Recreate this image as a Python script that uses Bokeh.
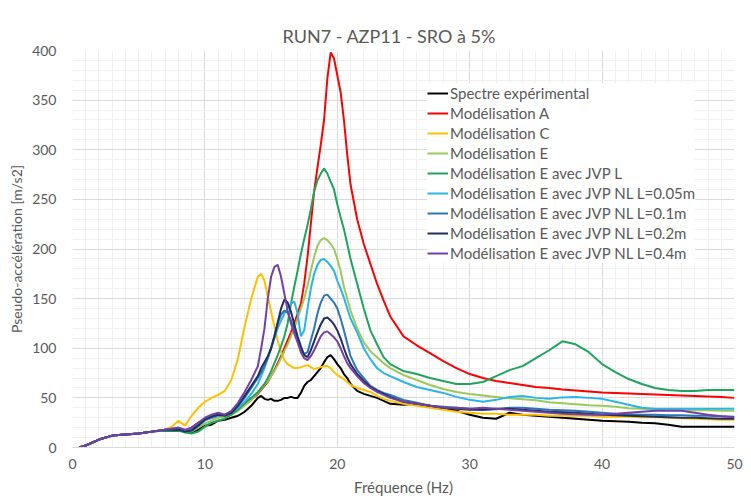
from bokeh.plotting import figure
from bokeh.models import SingleIntervalTicker, Legend, LegendItem, Range1d, Title
from bokeh.embed import file_html
from bokeh.resources import INLINE

freq = [0.5, 1, 2, 3, 4, 5, 6, 7, 7.5, 8, 8.5, 9, 9.5, 10, 10.5, 11, 11.5, 12, 12.5, 13, 13.5,
        14, 14.25, 14.5, 14.75, 15, 15.25, 15.5, 15.75, 16, 16.25, 16.5, 16.75, 17, 17.25, 17.5, 17.75,
        18, 18.25, 18.5, 18.75, 19, 19.25, 19.5, 19.75, 20, 20.25, 20.5, 20.75, 21,
        21.5, 22, 22.5, 23, 23.5, 24, 25, 26, 27, 28, 29, 30, 31, 32, 33, 34, 35, 36, 37, 38, 39,
        40, 41, 42, 43, 44, 45, 46, 47, 48, 49, 50]

spectre_exp = [0, 2, 8, 12, 13, 14, 16, 17, 17, 17, 16, 15, 18, 22, 23, 27, 28, 30, 32, 36, 42,
               50, 52, 49, 48, 49, 47, 47, 48, 50, 50, 51, 50, 50, 55, 62, 66,
               68, 72, 76, 80, 86, 91, 93, 89, 84, 80, 74, 70, 64,
               57, 54, 52, 50, 47, 44, 43, 44, 42, 40, 37, 33, 30, 29, 35, 33, 32, 31, 30, 29, 28,
               27, 26.5, 26, 25, 24.5, 23, 21, 21, 21, 21, 21]

model_a = [0, 2, 8, 12, 13, 14, 16, 18, 18, 18, 17, 20, 25, 28, 30, 31, 32, 34, 38, 43, 48,
           54, 58, 62, 66, 72, 78, 85, 92, 100, 108, 116, 125, 135, 145, 165, 192,
           225, 258, 282, 305, 330, 372, 398, 392, 375, 358, 330, 295, 265,
           230, 205, 185, 165, 148, 132, 112, 103, 95, 87, 80, 74, 70, 67, 65, 63, 61, 60, 58.5, 57.5, 56.5,
           55.5, 55, 54.5, 54, 53.5, 53, 52.5, 52, 51.5, 51, 50]

model_c = [0, 2, 8, 12, 13, 14, 16, 18, 21, 27, 22, 32, 40, 46, 50, 53, 57, 68, 90, 122, 150,
           172, 175, 168, 152, 137, 122, 108, 96, 88, 84, 82, 80, 80, 81, 82, 83,
           81, 79, 80, 81, 82, 82, 80, 76, 73, 71, 69, 66, 63,
           60, 58, 56, 52, 49, 47, 44, 42, 40, 38, 36, 35, 34, 34, 33, 33, 33, 32, 32, 32, 32,
           31, 31, 31, 30.5, 30.5, 30, 29.5, 29, 28.5, 28, 28]

model_e = [0, 2, 8, 12, 13, 14, 16, 18, 18, 18, 16, 16, 20, 24, 27, 30, 31, 33, 37, 42, 48,
           55, 59, 63, 67, 72, 77, 83, 90, 97, 104, 112, 120, 130, 140, 150, 163,
           178, 192, 203, 209, 211, 209, 205, 200, 190, 178, 162, 150, 138,
           120, 106, 97, 91, 85, 80, 73, 68, 63, 59, 56, 54, 52.5, 51, 49.5, 48.5, 47.5, 45.5, 44.5, 43.5, 42.5,
           42, 41, 39.5, 39, 38.5, 38, 38, 37.5, 37.5, 37, 37]

model_e_jvp_l = [0, 2, 8, 12, 13, 14, 16, 17, 17, 17, 15, 14, 16, 21, 25, 27, 29, 33, 38, 45, 50,
                 56, 60, 64, 70, 77, 85, 93, 102, 112, 125, 145, 162, 178, 195, 210, 224,
                 240, 258, 269, 276, 281, 276, 268, 260, 245, 232, 220, 205, 190,
                 165, 140, 118, 104, 91, 84, 77, 74, 70, 67, 64, 64, 66, 72, 78, 82, 90, 98, 107, 104, 96,
                 84, 76, 69, 64, 60, 58, 57, 57, 58, 58, 58]

model_e_nl_005 = [0, 2, 8, 12, 13, 14, 16, 18, 19, 19, 17, 17, 22, 27, 30, 32, 33, 36, 40, 46, 54,
                  64, 72, 80, 90, 100, 110, 120, 128, 135, 140, 145, 147, 135, 112, 118, 140,
                  160, 175, 184, 189, 190, 187, 183, 178, 168, 160, 151, 140, 130,
                  116, 100, 89, 80, 75, 72, 66, 61, 58, 55, 51, 48, 46, 48, 51, 52, 50, 49, 50.5, 51, 50,
                  49, 46, 43, 40, 39, 39, 39, 39, 39, 39, 39]

model_e_nl_01 = [0, 2, 8, 12, 13, 14, 16, 18, 19, 20, 17, 18, 24, 29, 32, 34, 33, 36, 42, 50, 60,
                 70, 76, 82, 90, 100, 112, 125, 134, 138, 136, 128, 118, 108, 98, 94, 96,
                 108, 120, 135, 146, 153, 154, 150, 146, 140, 130, 118, 105, 92,
                 78, 70, 62, 58, 55, 53, 48, 45, 42, 41, 40, 39, 38, 38.5, 40, 40, 39, 38, 37.5, 37, 36,
                 35, 34, 33.5, 33, 33, 32.5, 32.5, 32, 32, 31.5, 31]

model_e_nl_02 = [0, 2, 8, 12, 13, 14, 16, 18, 18, 18, 16, 17, 22, 28, 31, 33, 32, 35, 42, 52, 62,
                 72, 80, 86, 92, 100, 112, 126, 140, 149, 146, 137, 124, 112, 102, 93, 91,
                 98, 107, 116, 124, 130, 131, 128, 124, 118, 110, 100, 91, 84,
                 74, 67, 61, 57, 54, 51, 46, 44, 42, 40, 39, 38, 38, 39, 39, 38, 37, 36, 35.5, 35, 34,
                 33, 32.5, 32, 31.5, 31, 30.5, 30, 30, 29.5, 29, 29]

model_e_nl_04 = [0, 2, 8, 12, 13, 14, 16, 18, 19, 20, 18, 20, 25, 30, 33, 35, 33, 37, 45, 56, 68,
                 82, 100, 120, 150, 172, 182, 184, 172, 155, 138, 125, 115, 106, 96, 90, 88,
                 92, 98, 105, 112, 116, 117, 114, 111, 107, 100, 92, 85, 80,
                 72, 65, 60, 56, 53, 50, 46, 44, 42, 40, 40, 39, 40, 39, 38, 37, 36, 35, 34, 33.5, 33,
                 33, 34, 35, 36, 37, 37, 37, 35, 33, 31.5, 30.5]

series_names = ["Spectre expérimental", "Modélisation A", "Modélisation C", "Modélisation E",
                "Modélisation E avec JVP L", "Modélisation E avec JVP NL L=0.05m",
                "Modélisation E avec JVP NL L=0.1m", "Modélisation E avec JVP NL L=0.2m",
                "Modélisation E avec JVP NL L=0.4m"]
series_values = [spectre_exp, model_a, model_c, model_e, model_e_jvp_l, model_e_nl_005,
                 model_e_nl_01, model_e_nl_02, model_e_nl_04]
series_colors = ["#000000", "#FF0000", "#FFC000", "#9BC95B", "#1FA45E", "#2AB4E8",
                 "#2E75B6", "#1F2F5F", "#7440A4"]

FONT = "Lato"
TXT = "#595959"

p = figure(width=751, height=499, output_backend="svg", toolbar_location=None,
           x_range=Range1d(0, 50), y_range=Range1d(0, 400),
           min_border_left=72, min_border_right=17, min_border_top=50, min_border_bottom=52)
p.outline_line_color = None
p.background_fill_color = "white"
p.border_fill_color = "white"

t = Title(text="RUN7 - AZP11 - SRO à 5%", align="left", offset=210, text_font=FONT,
          text_font_size="18px", text_font_style="normal", text_color=TXT, standoff=8)
p.add_layout(t, "above")

p.xaxis.ticker = SingleIntervalTicker(interval=10, num_minor_ticks=10)
p.yaxis.ticker = SingleIntervalTicker(interval=50, num_minor_ticks=5)
for ax in (p.xaxis[0], p.yaxis[0]):
    ax.major_tick_line_color = None
    ax.minor_tick_line_color = None
    ax.major_tick_out = 0
    ax.major_tick_in = 0
    ax.minor_tick_out = 0
    ax.minor_tick_in = 0
    ax.major_label_text_font = FONT
    ax.major_label_text_font_size = "14px"
    ax.major_label_text_color = TXT
    ax.axis_label_text_font = FONT
    ax.axis_label_text_font_style = "normal"
    ax.axis_label_text_color = TXT
p.xaxis.axis_label_text_font_size = "15px"
p.yaxis.axis_label_text_font_size = "14px"
p.xaxis.axis_line_color = "#D9D9D9"
p.yaxis.axis_line_color = None
p.xaxis.axis_label = "Fréquence (Hz)"
p.yaxis.axis_label = "Pseudo-accélération [m/s2]"
p.xaxis.major_label_standoff = 11
p.yaxis.major_label_standoff = 16
p.xaxis.axis_label_standoff = 6
p.yaxis.axis_label_standoff = 4

p.xgrid.grid_line_color = "#D9D9D9"
p.ygrid.grid_line_color = "#D9D9D9"
p.xgrid.minor_grid_line_color = "#F0F0F0"
p.ygrid.minor_grid_line_color = "#F0F0F0"

items = []
for name, vals, col in zip(series_names, series_values, series_colors):
    r = p.line(freq, vals, line_color=col, line_width=2)
    items.append(LegendItem(label=name, renderers=[r]))

legend = Legend(items=items, location=(355, 184), padding=10, spacing=0, margin=0,
                label_standoff=2, glyph_width=21, glyph_height=20, label_height=20,
                label_text_font=FONT, label_text_font_size="15px", label_text_color=TXT,
                border_line_color=None, background_fill_color="white", background_fill_alpha=1)
p.add_layout(legend, "center")

open("out.html", "w").write(file_html(p, INLINE))
